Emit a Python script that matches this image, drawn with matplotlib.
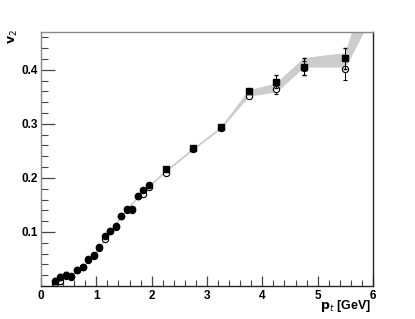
import matplotlib
matplotlib.use("Agg")
import matplotlib.pyplot as plt
from matplotlib.ticker import MultipleLocator

# ---- data ----
pt_low = [0.25, 0.35, 0.45, 0.55, 0.65, 0.75, 0.85, 0.95, 1.05, 1.15, 1.25,
          1.35, 1.45, 1.55, 1.65, 1.75, 1.85, 1.95]
v2_low_full = [0.009, 0.017, 0.021, 0.018, 0.030, 0.036, 0.050, 0.057, 0.072,
               0.093, 0.102, 0.111, 0.130, 0.142, 0.143, 0.167, 0.178, 0.186]
err_low_full = [0.006, 0.006, 0.004, 0.003, 0.003, 0.003, 0.002, 0.002, 0.002,
                0.002, 0.002, 0.002, 0.002, 0.002, 0.002, 0.002, 0.002, 0.002]
v2_low_open = [0.005, 0.010, 0.019, 0.017, 0.029, 0.035, 0.049, 0.056, 0.071,
               0.087, 0.101, 0.110, 0.129, 0.140, 0.141, 0.166, 0.171, 0.183]

pt_high = [2.25, 2.75, 3.25, 3.75, 4.25, 4.75, 5.5]
v2_high_full = [0.217, 0.256, 0.294, 0.360, 0.378, 0.406, 0.421]
err_high_full = [0.003, 0.003, 0.003, 0.004, 0.012, 0.015, 0.020]
v2_high_open = [0.210, 0.253, 0.293, 0.352, 0.364, 0.403, 0.401]
err_high_open = [0.003, 0.003, 0.003, 0.004, 0.009, 0.013, 0.020]

pt_band = [0.25, 0.5, 0.75, 1.0, 1.25, 1.5, 1.75, 2.0, 2.25, 2.75, 3.25,
           3.75, 4.25, 4.75, 5.5, 6.0]
band_lo = [0.007, 0.018, 0.035, 0.063, 0.100, 0.135, 0.165, 0.189, 0.212,
           0.253, 0.292, 0.352, 0.360, 0.406, 0.406, 0.506]
band_hi = [0.009, 0.019, 0.036, 0.065, 0.102, 0.137, 0.167, 0.191, 0.214,
           0.255, 0.294, 0.362, 0.375, 0.422, 0.431, 0.593]

xticks = [0, 1, 2, 3, 4, 5, 6]
yticks = [0.1, 0.2, 0.3, 0.4]

plt.rcParams['font.family'] = ['Liberation Sans', 'DejaVu Sans']

fig = plt.figure(figsize=(4.15, 3.19), dpi=100)
ax = fig.add_axes([41/415, 1-286/319, 332/415, 254/319])

ax.fill_between(pt_band, band_lo, band_hi, color='#cccccc',
                edgecolor='#cccccc', linewidth=0.7, zorder=1)

ms = 4.5
ax.errorbar(pt_low, v2_low_open, yerr=err_low_full, fmt='o', mfc='white',
            mec='black', mew=0.8, ms=ms, ecolor='black', elinewidth=0.7,
            capsize=1.5, zorder=3)
ax.errorbar(pt_low, v2_low_full, yerr=err_low_full, fmt='o', mfc='black',
            mec='black', ms=ms, ecolor='black', elinewidth=0.7,
            capsize=1.5, zorder=4)
ax.errorbar(pt_high, v2_high_open, yerr=err_high_open, fmt='o', mfc='white',
            mec='black', mew=0.8, ms=ms, ecolor='black', elinewidth=0.7,
            capsize=1.5, zorder=3)
ax.errorbar(pt_high, v2_high_full, yerr=err_high_full, fmt='s', mfc='black',
            mec='black', ms=4.2, ecolor='black', elinewidth=0.7,
            capsize=1.5, zorder=4)

ax.set_xlim(0, 6)
ax.set_ylim(0, 0.47)
ax.set_xticks(xticks)
ax.set_yticks(yticks)
ax.set_xticklabels([str(t) for t in xticks])
ax.set_yticklabels([f"{t:.1f}" for t in yticks])
ax.xaxis.set_minor_locator(MultipleLocator(0.2))
ax.yaxis.set_minor_locator(MultipleLocator(0.02))
ax.tick_params(axis='both', which='both', direction='in', top=False, right=False,
               labelsize=8.5, colors='#444444', labelcolor='black')
ax.tick_params(axis='y', which='major', length=10, width=0.9, pad=2)
ax.tick_params(axis='y', which='minor', length=5, width=0.8)
ax.tick_params(axis='x', which='major', length=7, width=0.9, pad=3)
ax.tick_params(axis='x', which='minor', length=4, width=0.8)
for lab in ax.get_xticklabels() + ax.get_yticklabels():
    lab.set_fontweight('bold')

ax.spines['left'].set_color('#888888')
ax.spines['top'].set_color('#888888')
ax.spines['right'].set_color('#222222')
ax.spines['bottom'].set_color('#222222')
for s in ax.spines.values():
    s.set_linewidth(1.0)

fig.text(13/415, 1-37/319, r'$\mathbf{v}_{2}$', rotation=90, ha='center',
         va='center', fontsize=9, fontweight='bold')
fig.text(371/415, 1-306/319, r'$\mathbf{p}_{t}$ [GeV]', ha='right', va='center',
         fontsize=9, fontweight='bold')

fig.savefig('out.png', dpi=100)
